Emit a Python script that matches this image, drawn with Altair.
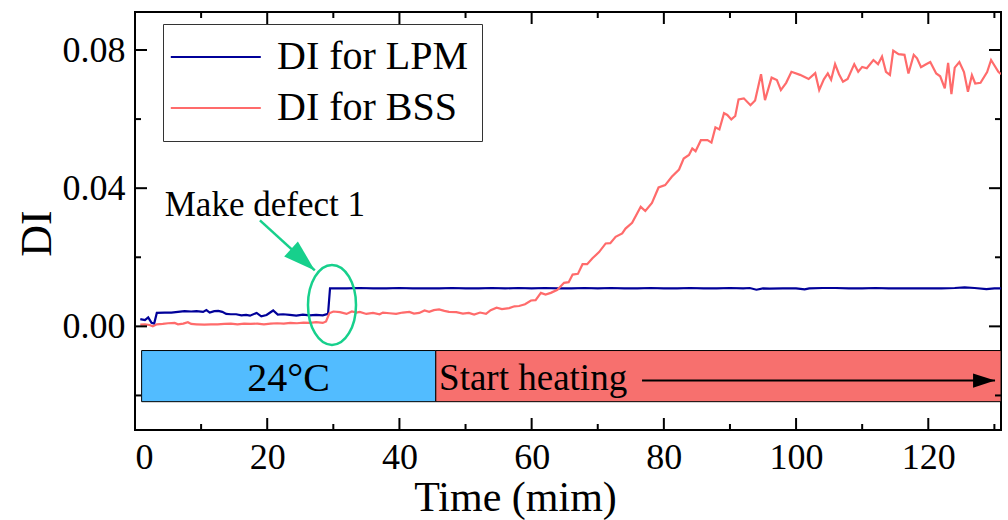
import altair as alt
import pandas as pd

# ---------------- data ----------------
lpm_t = [0.8, 1.5, 2.0, 2.5, 2.9, 3.3, 4.5, 5.5, 6.5, 7.5, 8.5, 9.3, 10.3, 10.8, 11.3,
         12.0, 12.6, 13.2, 13.8, 14.5, 15.3, 16.1, 16.8, 17.4, 18.4, 19.1, 19.9, 20.9,
         21.6, 22.4, 23.4, 24.4, 25.4, 26.4, 27.4, 28.4, 29.2, 29.5,
         30, 32, 34, 36, 38, 40, 42, 44, 46, 48, 50, 52, 54, 56, 58, 60, 62, 64, 66, 68,
         70, 72, 74, 76, 78, 80, 82, 84, 86, 88, 90, 92, 93, 94, 95, 96, 98, 100, 101.3,
         102, 104, 106, 108, 110, 112, 114, 116, 118, 120, 122, 124, 125.5, 127, 128.8,
         130, 131]
lpm_v = [0.0021, 0.0018, 0.0026, 0.0010, 0.0008, 0.0039, 0.0040, 0.0040, 0.0042, 0.0044,
         0.0043, 0.0044, 0.0042, 0.0047, 0.0040, 0.0044, 0.0045, 0.0042, 0.0036, 0.0035,
         0.0035, 0.0032, 0.0033, 0.0031, 0.0039, 0.0029, 0.0033, 0.0046, 0.0034, 0.0035,
         0.0033, 0.0031, 0.0034, 0.0032, 0.0033, 0.0032, 0.0036, 0.0110,
         0.0110, 0.0110, 0.0111, 0.0110, 0.0110, 0.0111, 0.0110, 0.0110, 0.0110, 0.0111,
         0.0110, 0.0110, 0.0111, 0.0110, 0.0111, 0.0110, 0.0111, 0.0110, 0.0110, 0.0111,
         0.0110, 0.0111, 0.0110, 0.0110, 0.0111, 0.0110, 0.0110, 0.0111, 0.0110, 0.0110,
         0.0111, 0.0110, 0.0111, 0.0106, 0.0110, 0.0109, 0.0110, 0.0110, 0.0107,
         0.0110, 0.0111, 0.0111, 0.0110, 0.0110, 0.0111, 0.0110, 0.0110, 0.0110, 0.0110,
         0.0110, 0.0111, 0.0113, 0.0111, 0.0108, 0.0110, 0.0110]

bss_t = [0.8, 1.5, 2.2, 2.7, 3.3, 4.2, 5.0, 6.0, 6.5, 7.3, 8.0, 8.5, 9.3, 10.5, 11.5, 12.5,
         13.5, 14.5, 15.5, 16.5, 17.5, 18.5, 19.5, 20.5, 21.5, 22.5, 23.5, 24.5, 25.5, 26.5,
         27.4, 28.4, 28.9, 29.4, 30.0, 31.0, 32.0, 32.8, 33.5, 34.0, 35.0, 36.0, 37.0, 37.5,
         38.5, 39.5, 40.5, 41.5, 42.2, 43.0, 43.8, 44.5, 45.2, 46.0, 46.8, 47.5, 48.6, 49.6,
         50.5, 51.3, 52.2, 53.1, 53.8, 54.7, 55.5, 56.6, 57.4, 58.1, 59.0, 59.9, 60.6, 61.4,
         62.1, 62.9, 63.9, 64.9, 65.6, 66.2, 67.0, 67.7, 68.4, 69.2, 70.2, 71.2, 71.9, 72.7,
         73.7, 74.2, 75.2, 76.5, 77.2, 78.2, 79.2, 80.2, 81.2, 82.3, 83.0, 83.8, 84.3, 84.8,
         85.6, 86.6, 87.2, 87.8, 88.4, 89.1, 89.6, 90.2, 90.8, 91.3, 92.1, 93.1, 93.8, 94.7,
         95.3, 96.3, 97.1, 97.7, 98.5, 99.3, 100.6, 101.9, 102.9, 103.5, 104.2, 104.8, 105.3,
         105.9, 106.5, 107.1, 107.8, 108.8, 109.4, 110.0, 110.7, 111.7, 112.4, 113.0, 113.6,
         114.2, 114.7, 115.5, 116.4, 117.0, 117.8, 118.3, 118.9, 119.6, 120.3, 121.2, 121.8,
         122.5, 123.0, 123.5, 124.0, 124.7, 125.4, 126.0, 126.6, 127.1, 127.9, 128.9, 129.5,
         130.6, 131.0]
bss_v = [0.0005, 0.0006, 0.0004, 0.0000, 0.0006, 0.0007, 0.0009, 0.0010, 0.0006, 0.0008,
         0.0012, 0.0007, 0.0006, 0.0005, 0.0006, 0.0006, 0.0007, 0.0008, 0.0006, 0.0008,
         0.0007, 0.0008, 0.0006, 0.0008, 0.0009, 0.0008, 0.0010, 0.0009, 0.0011, 0.0010,
         0.0012, 0.0010, 0.0014, 0.0038, 0.0043, 0.0041, 0.0036, 0.0043, 0.0040, 0.0042,
         0.0036, 0.0039, 0.0035, 0.0040, 0.0038, 0.0036, 0.0040, 0.0042, 0.0037, 0.0039,
         0.0046, 0.0042, 0.0047, 0.0049, 0.0045, 0.0042, 0.0041, 0.0037, 0.0039, 0.0034,
         0.0040, 0.0036, 0.0047, 0.0054, 0.0050, 0.0053, 0.0058, 0.0059, 0.0064, 0.0075,
         0.0076, 0.0097, 0.0092, 0.0097, 0.0106, 0.0126, 0.0128, 0.0150, 0.0152, 0.0180,
         0.0180, 0.0197, 0.0215, 0.0240, 0.0241, 0.0259, 0.0269, 0.0283, 0.0300, 0.0346,
         0.0334, 0.0357, 0.0402, 0.0409, 0.0433, 0.0454, 0.0486, 0.0496, 0.0515, 0.0507,
         0.0539, 0.0539, 0.0532, 0.0576, 0.0570, 0.0617, 0.0612, 0.0599, 0.0609, 0.0657,
         0.0660, 0.0640, 0.0654, 0.0730, 0.0655, 0.0720, 0.0713, 0.0684, 0.0705, 0.0737,
         0.0728, 0.0716, 0.0733, 0.0684, 0.0715, 0.0732, 0.0714, 0.0759, 0.0730, 0.0708,
         0.0716, 0.0759, 0.0737, 0.0751, 0.0747, 0.0771, 0.0759, 0.0781, 0.0737, 0.0728,
         0.0798, 0.0788, 0.0786, 0.0732, 0.0786, 0.0776, 0.0750, 0.0758, 0.0765, 0.0732,
         0.0724, 0.0689, 0.0763, 0.0672, 0.0749, 0.0765, 0.0736, 0.0679, 0.0727, 0.0703,
         0.0705, 0.0736, 0.0771, 0.0737, 0.0730]

series_names = ["DI for LPM", "DI for BSS"]
series_colors = ["#000099", "#FF6B6B"]

phase_labels = ["24°C", "Start heating"]
phase_start = [1.0, 45.5]
phase_end = [45.5, 131.0]
phase_colors = ["#52BCFF", "#F7706E"]
band_top = -0.0070
band_bottom = -0.0218

x_major = [0, 20, 40, 60, 80, 100, 120]
x_minor = [10, 30, 50, 70, 90, 110, 130]
y_major = [0.0, 0.04, 0.08]
y_minor = [-0.02, 0.02, 0.06]

X_DOMAIN = [0, 131]
Y_DOMAIN = [-0.030, 0.091]

# annotation anchors (data units)
defect_text = "Make defect 1"
defect_text_pos = (4.5, 0.0351)
green_arrow_start = (18.9, 0.0307)
green_arrow_tip = (27.2, 0.0162)
ellipse_center = (29.8, 0.0062)
heat_arrow_start = (76.7, -0.0157)
heat_arrow_tip = (130.1, -0.0157)
label_24_pos = (23.25, -0.0151)
label_heat_pos = (46.0, -0.0151)

GREEN = "#17D08C"
FONT = "Liberation Serif"
W, H = 866, 418

# ---------------- frames ----------------
lines_df = pd.concat([
    pd.DataFrame({"t": lpm_t, "v": lpm_v, "series": series_names[0], "o": 1}),
    pd.DataFrame({"t": bss_t, "v": bss_v, "series": series_names[1], "o": 0}),
])
phase_df = pd.DataFrame({"label": phase_labels, "start": phase_start, "end": phase_end,
                         "top": band_top, "bottom": band_bottom, "color": phase_colors})

xs = alt.Scale(domain=X_DOMAIN, nice=False, zero=False)
ys = alt.Scale(domain=Y_DOMAIN, nice=False, zero=False)

x_axis = alt.Axis(values=x_major, title="Time (mim)", labelPadding=10, format="d",
                  titleX=380, titleY=80, titleBaseline="alphabetic", titleAlign="center",
                  titleAnchor="start", titleFontSize=42)
y_axis = alt.Axis(values=y_major, title="DI", format=".2f", labelPadding=10,
                  titleX=-85, titleY=221, titleBaseline="alphabetic", titleAlign="center",
                  titleAnchor="start", titleFontSize=44)

base = alt.Chart(lines_df)

lines = base.mark_line(strokeWidth=2.2, clip=True).encode(
    x=alt.X("t:Q", scale=xs, axis=x_axis),
    y=alt.Y("v:Q", scale=ys, axis=y_axis),
    color=alt.Color("series:N",
                    scale=alt.Scale(domain=series_names, range=series_colors),
                    legend=alt.Legend(title=None, orient="none", legendX=28, legendY=12,
                                      symbolType="M-1.4,0L3.6,0", symbolSize=1296,
                                      symbolStrokeWidth=2.2, labelFont=FONT,
                                      labelFontSize=40, labelColor="black",
                                      strokeColor="#333333", fillColor="white",
                                      padding=13, rowPadding=11, labelOffset=61,
                                      labelLimit=0)),
    order=alt.Order("o:Q"),
)

rects = alt.Chart(phase_df).mark_rect(stroke="black", strokeWidth=1).encode(
    x=alt.X("start:Q", scale=xs), x2="end:Q",
    y=alt.Y("top:Q", scale=ys), y2="bottom:Q",
    color=alt.Color("color:N", scale=None),
)

lab_df = pd.DataFrame({"t": [label_24_pos[0]], "v": [label_24_pos[1]], "txt": [phase_labels[0]]})
lab24 = alt.Chart(lab_df).mark_text(font=FONT, fontSize=40, align="center",
                                    baseline="middle", color="black").encode(
    x=alt.X("t:Q", scale=xs), y=alt.Y("v:Q", scale=ys), text="txt:N")
labh_df = pd.DataFrame({"t": [label_heat_pos[0]], "v": [label_heat_pos[1]], "txt": [phase_labels[1]]})
labh = alt.Chart(labh_df).mark_text(font=FONT, fontSize=37, align="left",
                                    baseline="middle", color="black").encode(
    x=alt.X("t:Q", scale=xs), y=alt.Y("v:Q", scale=ys), text="txt:N")

harrow_df = pd.DataFrame({"t": [heat_arrow_start[0]], "v": [heat_arrow_start[1]],
                          "t2": [heat_arrow_tip[0]], "v2": [heat_arrow_tip[1]]})
harrow = alt.Chart(harrow_df).mark_rule(color="black", strokeWidth=2).encode(
    x=alt.X("t:Q", scale=xs), y=alt.Y("v:Q", scale=ys), x2="t2:Q", y2="v2:Q")
hhead_df = pd.DataFrame({"t": [heat_arrow_tip[0]], "v": [heat_arrow_tip[1]]})
hhead = alt.Chart(hhead_df).mark_point(shape="M0,0L0.32,1L-0.32,1Z", size=1936, angle=90,
                                       filled=True, fill="black", strokeWidth=0,
                                       opacity=1).encode(
    x=alt.X("t:Q", scale=xs), y=alt.Y("v:Q", scale=ys))

txt_df = pd.DataFrame({"t": [defect_text_pos[0]], "v": [defect_text_pos[1]], "txt": [defect_text]})
dtext = alt.Chart(txt_df).mark_text(font=FONT, fontSize=35, align="left",
                                    baseline="middle", color="black").encode(
    x=alt.X("t:Q", scale=xs), y=alt.Y("v:Q", scale=ys), text="txt:N")

garrow_df = pd.DataFrame({"t": [green_arrow_start[0]], "v": [green_arrow_start[1]],
                          "t2": [green_arrow_tip[0]], "v2": [green_arrow_tip[1]]})
garrow = alt.Chart(garrow_df).mark_rule(color=GREEN, strokeWidth=2.5).encode(
    x=alt.X("t:Q", scale=xs), y=alt.Y("v:Q", scale=ys), x2="t2:Q", y2="v2:Q")
ghead_df = pd.DataFrame({"t": [green_arrow_tip[0]], "v": [green_arrow_tip[1]]})
ghead = alt.Chart(ghead_df).mark_point(shape="M0,0L0.32,1L-0.32,1Z", size=4096, angle=132,
                                       filled=True, fill=GREEN, strokeWidth=0,
                                       opacity=1).encode(
    x=alt.X("t:Q", scale=xs), y=alt.Y("v:Q", scale=ys))

ell_df = pd.DataFrame({"t": [ellipse_center[0]], "v": [ellipse_center[1]]})
ellipse = alt.Chart(ell_df).mark_point(
    shape="M0,-1A0.6,1 0 1,1 0,1A0.6,1 0 1,1 0,-1Z", size=6400, filled=False,
    stroke=GREEN, strokeWidth=2.5, opacity=1).encode(
    x=alt.X("t:Q", scale=xs), y=alt.Y("v:Q", scale=ys))

# inward ticks on all four sides
xmaj_df = pd.DataFrame({"t": x_major})
xmin_df = pd.DataFrame({"t": x_minor})
ymaj_df = pd.DataFrame({"v": y_major})
ymin_df = pd.DataFrame({"v": y_minor})

def xticks(df, ln):
    bot = alt.Chart(df).mark_rule(color="black", strokeWidth=2).encode(
        x=alt.X("t:Q", scale=xs), y=alt.value(H), y2=alt.value(H - ln))
    top = alt.Chart(df).mark_rule(color="black", strokeWidth=2).encode(
        x=alt.X("t:Q", scale=xs), y=alt.value(0), y2=alt.value(ln))
    return bot + top

def yticks(df, ln):
    left = alt.Chart(df).mark_rule(color="black", strokeWidth=2).encode(
        y=alt.Y("v:Q", scale=ys), x=alt.value(0), x2=alt.value(ln))
    right = alt.Chart(df).mark_rule(color="black", strokeWidth=2).encode(
        y=alt.Y("v:Q", scale=ys), x=alt.value(W), x2=alt.value(W - ln))
    return left + right

chart = alt.layer(
    rects, lab24, labh, harrow, hhead,
    lines,
    ellipse, garrow, ghead, dtext,
    xticks(xmaj_df, 12), xticks(xmin_df, 6), yticks(ymaj_df, 12), yticks(ymin_df, 6),
).properties(
    width=W, height=H,
    padding={"left": 135, "top": 12, "right": 7, "bottom": 90},
    autosize=alt.AutoSizeParams(type="none"),
    background="white",
).configure_view(
    stroke="black", strokeWidth=2
).configure_axis(
    grid=False, domain=False, ticks=False,
    labelFont=FONT, labelFontSize=36, labelColor="black",
    titleFont=FONT, titleFontSize=44, titleFontWeight="normal", titleColor="black",
)

chart.save("out.html", embed_options={"renderer": "svg", "actions": False})
